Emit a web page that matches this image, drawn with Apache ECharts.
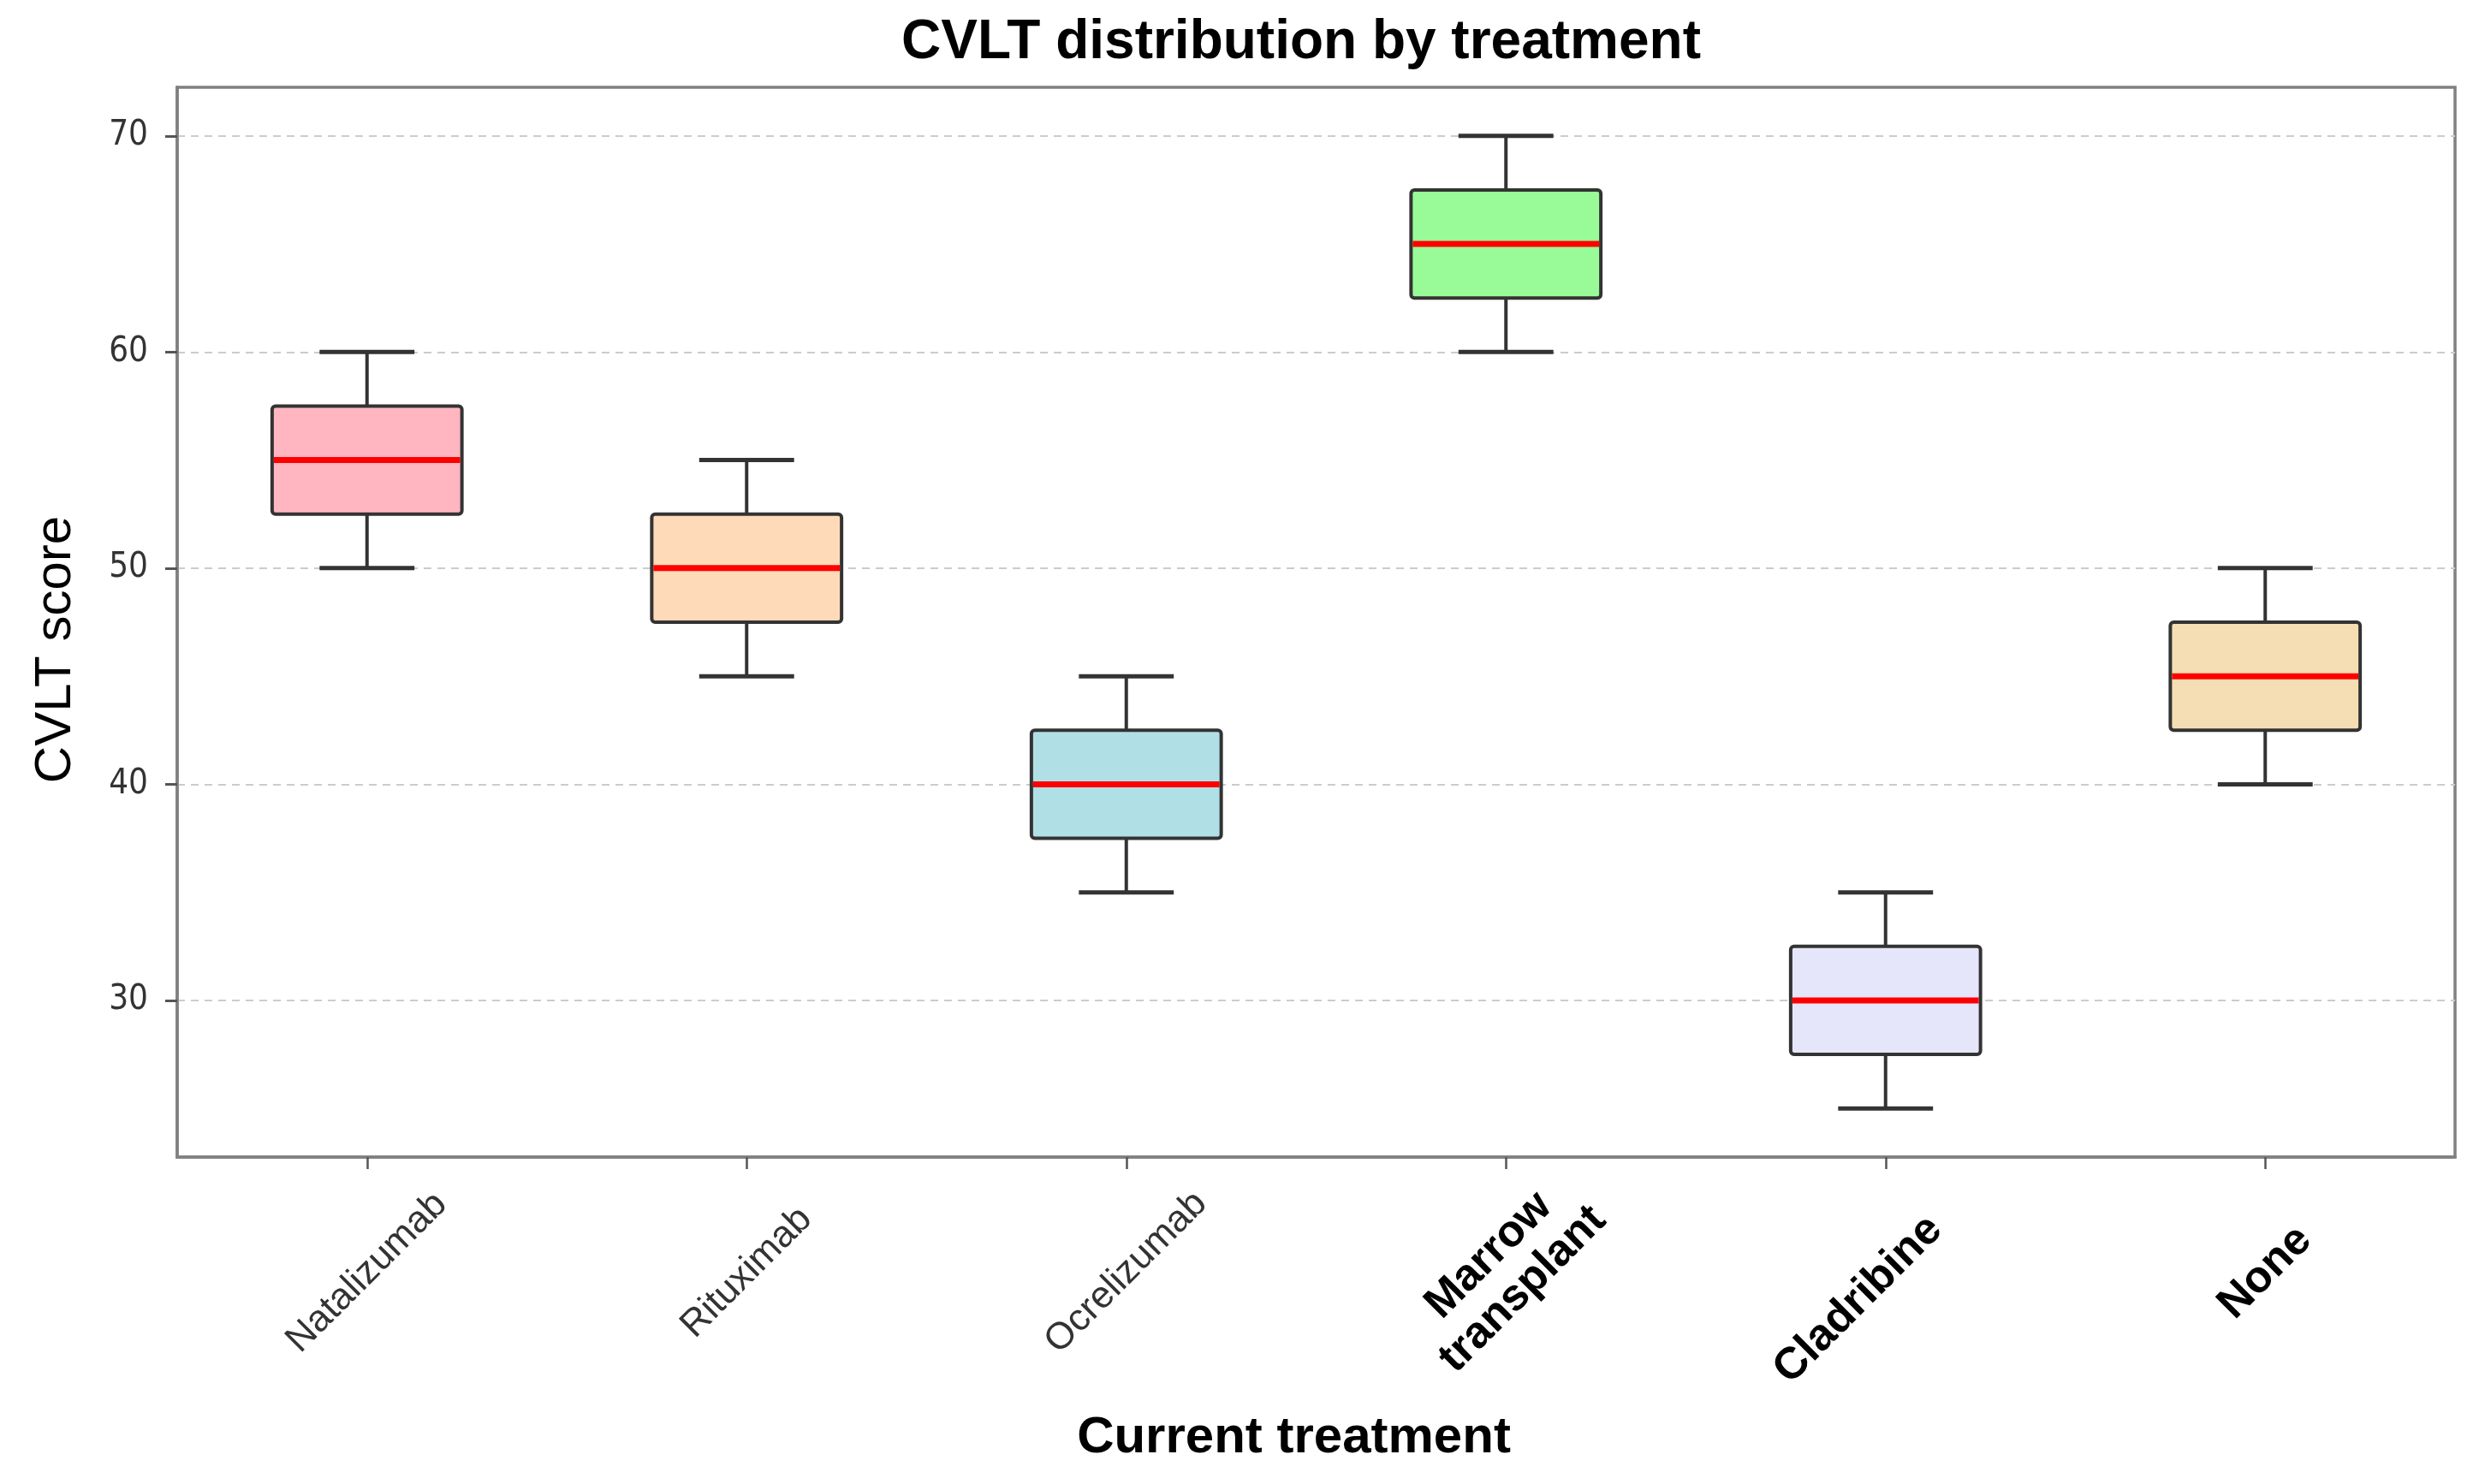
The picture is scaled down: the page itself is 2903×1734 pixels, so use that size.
<!DOCTYPE html>
<html>
<head>
<meta charset="utf-8">
<script src="https://cdn.jsdelivr.net/npm/echarts@6/dist/echarts.min.js"></script>
<style>
html,body{margin:0;padding:0;background:#fff;}
#chart{width:2903px;height:1734px;}
</style>
</head>
<body>
<div id="chart"></div>
<script>
// ---- data ----
const categories = ['Natalizumab', 'Rituximab', 'Ocrelizumab', 'Marrow\ntransplant', 'Cladribine', 'None'];
const whiskerLow  = [50, 45, 35, 60, 25, 40];
const quartile1   = [52.5, 47.5, 37.5, 62.5, 27.5, 42.5];
const medians     = [55, 50, 40, 65, 30, 45];
const quartile3   = [57.5, 52.5, 42.5, 67.5, 32.5, 47.5];
const whiskerHigh = [60, 55, 45, 70, 35, 50];
const boxColors   = ['#FFB6C1', '#FFDAB9', '#B0E0E6', '#98FB98', '#E6E6FA', '#F5DEB3'];
const yTicks      = [30, 40, 50, 60, 70];
const boldCategories = ['Marrow\ntransplant', 'Cladribine', 'None'];

const chart = echarts.init(document.getElementById('chart'), null, {renderer: 'canvas'});

const seriesData = categories.map((c, i) => [i, whiskerLow[i], quartile1[i], medians[i], quartile3[i], whiskerHigh[i]]);

function categoryItem(c) {
  if (boldCategories.indexOf(c) < 0) return c;
  const ts = {fontWeight: 'bold', fontSize: 52, lineHeight: 56, color: '#000', align: 'center', verticalAlign: 'middle'};
  if (c === 'Cladribine') ts.padding = [0, 90, 0, 0];
  return {value: c, textStyle: ts};
}

const option = {
  backgroundColor: '#ffffff',
  animation: false,
  title: {
    text: 'CVLT distribution by treatment',
    left: 1515,
    textAlign: 'center',
    top: 13,
    textStyle: {fontFamily: 'Liberation Sans', fontWeight: 'bold', fontSize: 64, color: '#000'}
  },
  grid: {
    left: 207, right: 35, top: 102, bottom: 382,
    outerBoundsMode: 'none',
    containLabel: false,
    show: true, borderColor: '#808080', borderWidth: 3.5, backgroundColor: 'transparent'
  },
  xAxis: {
    type: 'category',
    data: categories.map(categoryItem),
    boundaryGap: true,
    name: 'Current treatment',
    nameLocation: 'middle',
    nameGap: 298,
    nameMoveOverlap: false,
    nameTextStyle: {fontFamily: 'Liberation Sans', fontWeight: 'bold', fontSize: 60, color: '#000', padding: [0, 52, 0, 0]},
    axisLine: {show: true, lineStyle: {color: '#808080', width: 3.5}},
    axisTick: {show: true, alignWithLabel: true, length: 14, lineStyle: {color: '#555', width: 2.5}},
    axisLabel: {
      rotate: 45, align: 'center', verticalAlign: 'middle', margin: 135,
      fontFamily: 'Liberation Sans', fontSize: 44, color: '#333', interval: 0, lineHeight: 52
    },
    splitLine: {show: false}
  },
  yAxis: {
    type: 'value',
    min: 22.75,
    max: 72.25,
    name: 'CVLT score',
    nameLocation: 'middle',
    nameRotate: 90,
    nameGap: 112,
    nameMoveOverlap: false,
    nameTextStyle: {fontFamily: 'Liberation Sans', fontSize: 60, color: '#000', padding: [0, 64, 0, 0]},
    axisLine: {show: true, lineStyle: {color: '#808080', width: 3.5}},
    axisTick: {show: true, length: 14, customValues: yTicks, lineStyle: {color: '#555', width: 3}},
    axisLabel: {customValues: yTicks, margin: 34, fontFamily: 'DejaVu Sans Condensed, DejaVu Sans', fontSize: 40, color: '#333'},
    splitLine: {show: true, lineStyle: {color: '#cccccc', width: 2, type: [9, 7]}}
  },
  series: [{
    type: 'custom',
    data: seriesData,
    encode: {x: 0, y: [1, 2, 3, 4, 5]},
    z: 5,
    renderItem: function (params, api) {
      const i = api.value(0);
      const band = api.size([1, 0])[0];
      const boxW = band * 0.5;
      const capW = band * 0.25;
      const pLo = api.coord([i, api.value(1)]);
      const pQ1 = api.coord([i, api.value(2)]);
      const pMed = api.coord([i, api.value(3)]);
      const pQ3 = api.coord([i, api.value(4)]);
      const pHi = api.coord([i, api.value(5)]);
      const cx = pMed[0];
      const lineStyle = {stroke: '#333', lineWidth: 4};
      return {
        type: 'group',
        children: [
          {type: 'line', shape: {x1: cx, y1: pQ1[1], x2: cx, y2: pLo[1]}, style: lineStyle},
          {type: 'line', shape: {x1: cx, y1: pQ3[1], x2: cx, y2: pHi[1]}, style: lineStyle},
          {type: 'line', shape: {x1: cx - capW / 2, y1: pLo[1], x2: cx + capW / 2, y2: pLo[1]}, style: {stroke: '#333', lineWidth: 5}},
          {type: 'line', shape: {x1: cx - capW / 2, y1: pHi[1], x2: cx + capW / 2, y2: pHi[1]}, style: {stroke: '#333', lineWidth: 5}},
          {type: 'rect', shape: {x: cx - boxW / 2, y: pQ3[1], width: boxW, height: pQ1[1] - pQ3[1], r: 4},
            style: {fill: boxColors[i], stroke: '#333', lineWidth: 4}},
          {type: 'line', shape: {x1: cx - boxW / 2 + 2, y1: pMed[1], x2: cx + boxW / 2 - 2, y2: pMed[1]},
            style: {stroke: '#ff0000', lineWidth: 7}}
        ]
      };
    }
  }]
};
chart.setOption(option);
</script>
</body>
</html>
